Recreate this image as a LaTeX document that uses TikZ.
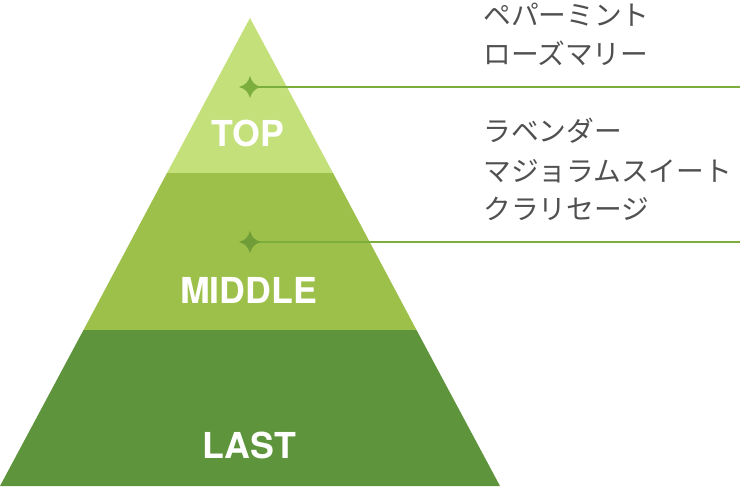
\documentclass[tikz,border=0pt]{standalone}
\usepackage{fontspec}
\usepackage{tikz}

\newfontfamily\jpfont{Noto Sans CJK JP}
\newfontfamily\tierfont{TeX Gyre Heros}

\definecolor{topgreen}{RGB}{196,224,123}
\definecolor{midgreen}{RGB}{157,192,74}
\definecolor{lastgreen}{RGB}{94,148,60}
\definecolor{leadgreen}{RGB}{124,174,62}
\definecolor{notegray}{RGB}{80,80,80}

\tikzset{
	tier/.style={font=\tierfont\bfseries\fontsize{26.8}{27}\selectfont, text=white, inner sep=0pt},
	note/.style={font=\jpfont\fontsize{20.8}{24}\selectfont, text=notegray, anchor=west, inner sep=0pt},
	leader/.style={draw=leadgreen, line width=1.5pt}
}

\newcommand{\sparkle}[2]{%
	\fill[#2, shift={(#1)}] (0,-11) .. controls (2,-4.5) and (4.5,-2) .. (11,0)
		.. controls (4.5,2) and (2,4.5) .. (0,11)
		.. controls (-2,4.5) and (-4.5,2) .. (-11,0)
		.. controls (-4.5,-2) and (-2,-4.5) .. (0,-11) -- cycle;
	\fill[#2] (#1) circle[radius=4.6];}

\begin{document}
\begin{tikzpicture}[x=0.75pt, y=-0.75pt]

	\useasboundingbox (0,0) rectangle (740,487);

	\coordinate (apex) at (250,18);
	\coordinate (tl) at (167,173);
	\coordinate (tr) at (333,173);
	\coordinate (ml) at (83.5,330);
	\coordinate (mr) at (416.5,330);
	\coordinate (bl) at (0,486);
	\coordinate (br) at (500,486);

	\fill[topgreen] (apex) -- (tr) -- (tl) -- cycle;
	\fill[midgreen] (tl) -- (tr) -- (mr) -- (ml) -- cycle;
	\fill[lastgreen] (ml) -- (mr) -- (br) -- (bl) -- cycle;

	\node[tier] (top) at (248,133) {TOP};
	\node[tier] (middle) at (248.5,290) {MIDDLE};
	\node[tier] (last) at (249.5,445) {LAST};

	% leader lines
	\coordinate (s1) at (250,87);
	\coordinate (e1) at (740,87);
	\coordinate (s2) at (250,242);
	\coordinate (e2) at (740,242);
	\draw[leader] (s1) -- (e1);
	\draw[leader] (s2) -- (e2);
	\sparkle{s1}{leadgreen}
	\sparkle{s2}{leadgreen!90!black}

	\node[note] (n1) at (483,15) {ペパーミント};
	\node[note] (n2) at (483,53) {ローズマリー};
	\node[note] (n3) at (483,131) {ラベンダー};
	\node[note] (n4) at (483,171) {マジョラムスイート};
	\node[note] (n5) at (483,209) {クラリセージ};

\end{tikzpicture}
\end{document}
